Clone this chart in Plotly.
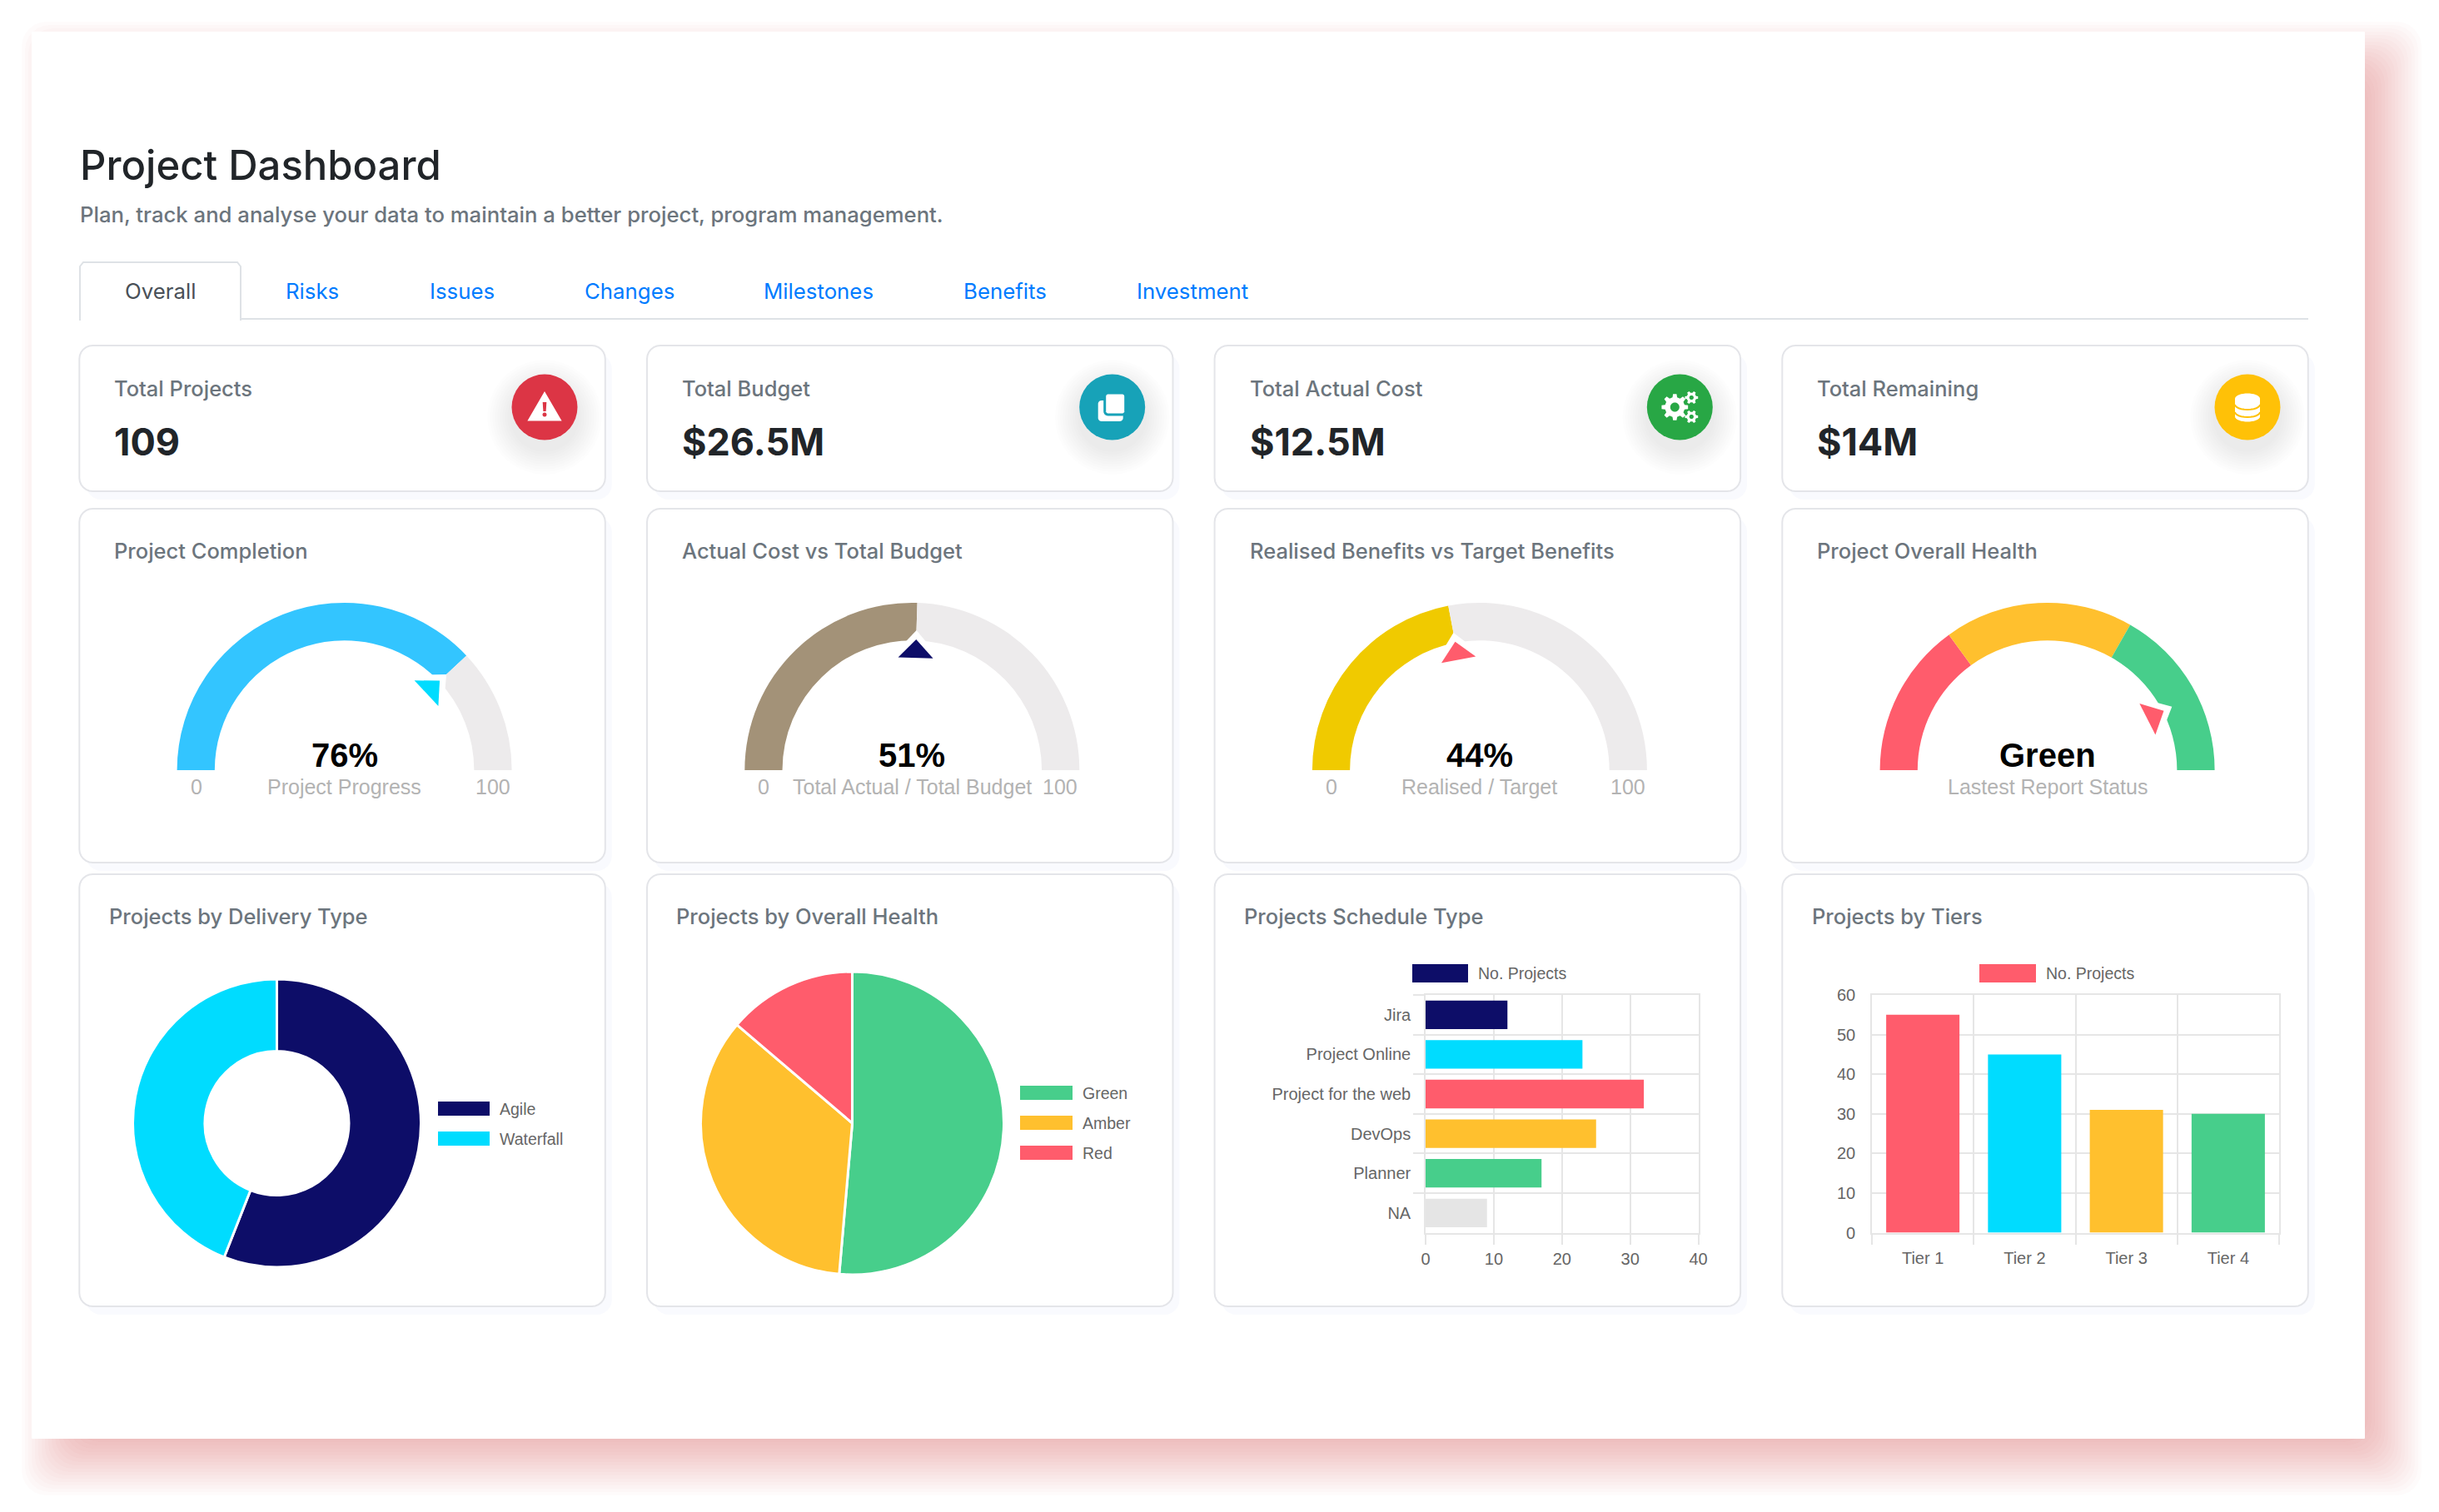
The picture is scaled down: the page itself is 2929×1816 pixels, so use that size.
import math
import plotly.graph_objects as go

W, H = 2929, 1816

# ---------- data ----------
page_title = "Project Dashboard"
page_subtitle = "Plan, track and analyse your data to maintain a better project, program management."
tab_labels = ["Overall", "Risks", "Issues", "Changes", "Milestones", "Benefits", "Investment"]

kpi_titles = ["Total Projects", "Total Budget", "Total Actual Cost", "Total Remaining"]
kpi_values = ["109", "$26.5M", "$12.5M", "$14M"]

gauge_titles = ["Project Completion", "Actual Cost vs Total Budget",
                "Realised Benefits vs Target Benefits", "Project Overall Health"]
gauge_values = [76, 51, 44]
gauge_health_segments = [30, 36.5, 33.5]
gauge_health_pointer = 85
gauge_big_text = ["76%", "51%", "44%", "Green"]
gauge_captions = ["Project Progress", "Total Actual / Total Budget", "Realised / Target", "Lastest Report Status"]

delivery_labels = ["Agile", "Waterfall"]
delivery_values = [61, 48]
health_labels = ["Green", "Amber", "Red"]
health_values = [56, 38, 15]

schedule_labels = ["Jira", "Project Online", "Project for the web", "DevOps", "Planner", "NA"]
schedule_values = [12, 23, 32, 25, 17, 9]
tier_labels = ["Tier 1", "Tier 2", "Tier 3", "Tier 4"]
tier_values = [55, 45, 31, 30]
bar_series_name = "No. Projects"

bottom_titles = ["Projects by Delivery Type", "Projects by Overall Health", "Projects Schedule Type", "Projects by Tiers"]

# ---------- styles ----------
NAVY, CYAN, RED, AMBER, GREEN, LIGHT = "#0D0D68", "#00DCFF", "#FF5C6C", "#FFC02E", "#47CE8B", "#E5E5E5"
TRACK = "#EDEBEC"
GAUGE_COLORS = ["#33C5FF", "#A39278", "#F0CA00"]
POINTER_COLORS = [CYAN, NAVY, RED, RED]
ICON_COLORS = ["#DC3545", "#17A2B8", "#28A745", "#FFC107"]
UI = "Inter"
CH = "Liberation Sans"
GRID = "#E6E6E6"

def fx(x): return x / W
def fy(y): return 1 - y / H

def P(points, close=True):
    s = "M" + " L".join(f"{fx(x):.6f},{fy(y):.6f}" for x, y in points)
    return s + (" Z" if close else "")

def rrect(x0, y0, x1, y1, r):
    pts = []
    for cx, cy, a0 in [(x1 - r, y0 + r, -90), (x1 - r, y1 - r, 0), (x0 + r, y1 - r, 90), (x0 + r, y0 + r, 180)]:
        for k in range(7):
            a = math.radians(a0 + 15 * k)
            pts.append((cx + r * math.cos(a), cy + r * math.sin(a)))
    return P(pts)

def ellipse(cx, cy, rx, ry):
    return P([(cx + rx * math.cos(math.radians(a)), cy + ry * math.sin(math.radians(a))) for a in range(0, 360, 10)])

def gear(cx, cy, ro, ri, n=8):
    pts = []
    for k in range(n):
        a = 2 * math.pi * k / n
        step = 2 * math.pi / n
        for off, r in [(-0.30, ri), (-0.17, ro), (0.17, ro), (0.30, ri)]:
            t = a + off * step
            pts.append((cx + r * math.cos(t), cy + r * math.sin(t)))
    return P(pts)

shapes, ann = [], []

def add_path(path, fill=None, line=None, lw=0, layer="below"):
    shapes.append(dict(type="path", path=path, xref="paper", yref="paper", layer=layer,
                       fillcolor=fill or "rgba(0,0,0,0)",
                       line=dict(color=line or "rgba(0,0,0,0)", width=lw)))

def text(x, y, s, size, color, font=UI, weight=400, anchor="left"):
    ann.append(dict(x=fx(x), y=fy(y), xref="paper", yref="paper", text=s, showarrow=False,
                    xanchor=anchor, yanchor="middle", borderpad=0,
                    font=dict(family=font, size=size, color=color, weight=weight)))

# page shadow + panel
PX0, PY0, PX1, PY1 = 38, 38, 2840, 1728
for e in range(40, -41, -4):
    d = 28
    add_path(rrect(PX0 + d - e, PY0 + d - e, PX1 + d + e, PY1 + d + e, 30),
             fill="rgba(205,45,55,0.02)")
add_path(rrect(PX0, PY0, PX1, PY1, 1), fill="#FFFFFF")

# header
text(95, 198, page_title, 49, "#212529", weight=500)
text(95, 258, page_subtitle, 25.7, "#6C757D", weight=500)

tab_centers = [192, 375, 555, 756, 983, 1207, 1432]
add_path(P([(95, 383), (2772, 383)], close=False), line="#DEE2E6", lw=2)
add_path(P([(96, 384), (96, 320), (100, 315), (285, 315), (289, 320), (289, 384)]), fill="#FFFFFF", line="#DEE2E6", lw=2)
add_path(P([(97, 384), (288, 384)], close=False), line="#FFFFFF", lw=3)
for i, (lab, c) in enumerate(zip(tab_labels, tab_centers)):
    text(c, 349, lab, 25.8, "#495057" if i == 0 else "#007BFF", anchor="center")

# cards
card_x = [95.3, 777, 1458.6, 2140.3]
CW = 631.5
rows = [(415, 590), (611, 1036), (1050, 1569)]
for (y0, y1) in rows:
    for x in card_x:
        add_path(rrect(x + 8, y0 + 10, x + CW + 8, y1 + 10, 18), fill="#F9FAFE")
for (y0, y1) in rows:
    for x in card_x:
        add_path(rrect(x, y0, x + CW, y1, 16), fill="#FFFFFF", line="#E4E5E9", lw=2)

# KPI row
for i, x in enumerate(card_x):
    text(x + 41, 467, kpi_titles[i], 25.5, "#6C757D", weight=500)
    text(x + 41, 530, kpi_values[i], 45, "#212529", weight=700)
    ix, iy = x + 558.7, 489
    for k in range(10):
        e = 30 - 3 * k
        add_path(ellipse(ix, iy + 12, 39 + e, 39 + e), fill="rgba(0,0,0,0.008)")
    add_path(ellipse(ix, iy, 39.5, 39.5), fill=ICON_COLORS[i], layer="above")
    A = "above"
    if i == 0:
        add_path(P([(ix, iy - 16), (ix + 18, iy + 15), (ix - 18, iy + 15)]), fill="#FFFFFF", line="#FFFFFF", lw=3, layer=A)
        add_path(P([(ix - 2.3, iy - 6), (ix + 2.3, iy - 6), (ix + 1.6, iy + 5), (ix - 1.6, iy + 5)]), fill=ICON_COLORS[0], layer=A)
        add_path(ellipse(ix, iy + 9, 2.5, 2.5), fill=ICON_COLORS[0], layer=A)
    elif i == 1:
        add_path(rrect(ix - 17, iy - 8, ix + 13, iy + 17, 4), fill="#FFFFFF", layer=A)
        add_path(rrect(ix - 9, iy - 17, ix + 16, iy + 9, 4), fill="#FFFFFF", line=ICON_COLORS[1], lw=3, layer=A)
    elif i == 2:
        add_path(gear(ix - 6, iy, 16, 12), fill="#FFFFFF", layer=A)
        add_path(ellipse(ix - 6, iy, 5.5, 5.5), fill=ICON_COLORS[2], layer=A)
        for oy in (-11.5, 11.5):
            add_path(gear(ix + 14, iy + oy, 8, 5.8, n=6), fill="#FFFFFF", layer=A)
            add_path(ellipse(ix + 14, iy + oy, 2.6, 2.6), fill=ICON_COLORS[2], layer=A)
    else:
        add_path(ellipse(ix, iy + 11, 15, 6.5), fill="#FFFFFF", layer=A)
        add_path(P([(ix - 15, iy - 10), (ix + 15, iy - 10), (ix + 15, iy + 11), (ix - 15, iy + 11)]), fill="#FFFFFF", layer=A)
        add_path(ellipse(ix, iy - 10, 15, 6.5), fill="#FFFFFF", layer=A)
        for oy in (-3, 6):
            pts = [(ix + 15 * math.cos(math.radians(a)), iy + oy + 6 * math.sin(math.radians(a))) for a in range(0, 181, 15)]
            add_path(P(pts, close=False), line=ICON_COLORS[3], lw=2, layer=A)

traces = []

# gauges
GY, GR, GHOLE = 925, 201, 0.775

def half_pie(cx, values, colors):
    traces.append(go.Pie(values=values + [sum(values)], sort=False, direction="clockwise", rotation=270,
                         hole=GHOLE, textinfo="none", hoverinfo="skip", showlegend=False,
                         marker=dict(colors=colors + ["rgba(0,0,0,0)"], line=dict(width=0)),
                         domain=dict(x=[fx(cx - GR), fx(cx + GR)], y=[fy(GY + GR), fy(GY - GR)])))

def pointer(cx, value, color):
    th = math.radians(180 - 180 * value / 100)
    ux, uy = math.cos(th), -math.sin(th)
    vx, vy = -uy, ux
    def pt(r, w): return (cx + r * ux + w * vx, GY + r * uy + w * vy)
    add_path(P([pt(168, 0), pt(128, 36), pt(128, -36)]), fill="#FFFFFF", layer="above")
    add_path(P([pt(157, 0), pt(135, 21), pt(135, -21)]), fill=color, layer="above")

for i, x in enumerate(card_x):
    cx = x + 318.3
    text(x + 41, 661, gauge_titles[i], 25.5, "#6C757D", weight=500)
    if i < 3:
        half_pie(cx, [gauge_values[i], 100 - gauge_values[i]], [GAUGE_COLORS[i], TRACK])
        pointer(cx, gauge_values[i], POINTER_COLORS[i])
        text(cx - 178, 945, "0", 25, "#B3B3B3", font=CH, anchor="center")
        text(cx + 178, 945, "100", 25, "#B3B3B3", font=CH, anchor="center")
    else:
        half_pie(cx, gauge_health_segments, [RED, AMBER, GREEN])
        pointer(cx, gauge_health_pointer, POINTER_COLORS[i])
    text(cx, 907, gauge_big_text[i], 40, "#000000", font=CH, weight=700, anchor="center")
    text(cx, 945, gauge_captions[i], 25, "#B3B3B3", font=CH, anchor="center")

# bottom titles
title_x = [130, 811, 1492.5, 2174.5]
for t, x in zip(bottom_titles, title_x):
    text(x, 1100, t, 25.5, "#6C757D", weight=500)

# donut
def pie(cx, cy, R, values, colors, hole, lw):
    traces.append(go.Pie(values=values, sort=False, direction="clockwise", rotation=0, hole=hole,
                         textinfo="none", hoverinfo="skip", showlegend=False,
                         marker=dict(colors=colors, line=dict(color="#FFFFFF", width=lw)),
                         domain=dict(x=[fx(cx - R), fx(cx + R)], y=[fy(cy + R), fy(cy - R)])))

pie(332.5, 1349, 173, delivery_values, [NAVY, CYAN], 0.5, 3)
pie(1023.5, 1349, 182, health_values, [GREEN, AMBER, RED], 0, 3)

def swatch(x0, y0, x1, y1, color, label, size=19.5):
    add_path(P([(x0, y0), (x1, y0), (x1, y1), (x0, y1)]), fill=color)
    text(x1 + 11, (y0 + y1) / 2, label, size, "#666666", font=CH)

for lab, col, yy in zip(delivery_labels, [NAVY, CYAN], [1323, 1359]):
    swatch(526, yy, 588, yy + 17, col, lab)
for lab, col, yy in zip(health_labels, [GREEN, AMBER, RED], [1304, 1340, 1376]):
    swatch(1225, yy, 1288, yy + 17, col, lab)
swatch(1696, 1158, 1763, 1180, NAVY, bar_series_name)
swatch(2377, 1158, 2445, 1180, RED, bar_series_name)

# bars
traces.append(go.Bar(y=schedule_labels, x=schedule_values, orientation="h", xaxis="x", yaxis="y",
                     marker=dict(color=[NAVY, CYAN, RED, AMBER, GREEN, LIGHT], line=dict(width=0)),
                     width=0.72, hoverinfo="skip", showlegend=False))
traces.append(go.Bar(x=tier_labels, y=tier_values, xaxis="x2", yaxis="y2",
                     marker=dict(color=[RED, CYAN, AMBER, GREEN], line=dict(width=0)),
                     width=0.72, hoverinfo="skip", showlegend=False))

tick_font = dict(family=CH, size=20, color="#666666")
axis_common = dict(showgrid=True, gridcolor=GRID, gridwidth=1.6, showline=True, linecolor=GRID, linewidth=1.6,
                   mirror=True, zeroline=False, tickfont=tick_font, fixedrange=True, automargin=False)
YD = [fy(1480.6), fy(1195)]
fig = go.Figure(traces)
fig.update_layout(
    width=W, height=H, margin=dict(l=0, r=0, t=0, b=0, pad=0), autosize=False,
    paper_bgcolor="#FFFFFF", plot_bgcolor="rgba(0,0,0,0)", showlegend=False,
    shapes=shapes, annotations=ann,
    xaxis=dict(domain=[fx(1712), fx(2039.6)], anchor="y", range=[0, 40], dtick=10, ticks="outside",
               ticklen=13, tickcolor=GRID, tickwidth=1.6, **axis_common),
    yaxis=dict(domain=YD, anchor="x", type="category", autorange="reversed", tickson="boundaries",
               ticks="outside", ticklen=13, tickcolor=GRID, tickwidth=1.6, ticklabelstandoff=12, **axis_common),
    xaxis2=dict(domain=[fx(2248), fx(2737)], anchor="y2", type="category", tickson="boundaries",
                ticks="outside", ticklen=13, tickcolor=GRID, tickwidth=1.6, ticklabelstandoff=12, **axis_common),
    yaxis2=dict(domain=YD, anchor="x2", range=[0, 60], dtick=10, ticks="outside", ticklen=14,
                tickcolor="rgba(0,0,0,0)", **axis_common),
)
fig.write_html("out.html", config=dict(displayModeBar=False),
               post_script="document.body.style.margin='0';document.body.style.overflow='hidden';")
